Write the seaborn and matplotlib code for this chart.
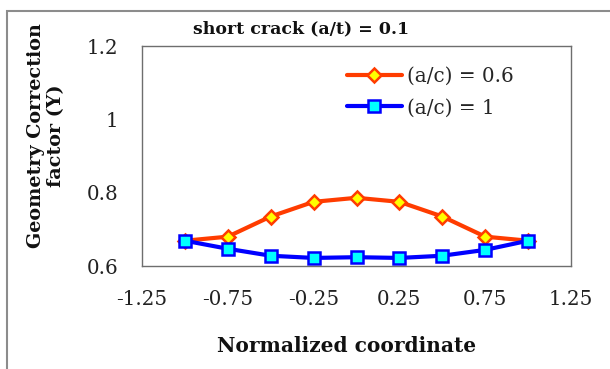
import matplotlib
matplotlib.use("Agg")
import matplotlib.pyplot as plt
import seaborn as sns
import pandas as pd
from matplotlib.patches import Rectangle

sns.set_theme(style="white")
plt.rcParams['font.family'] = ['DejaVu Serif']

x_coord = [-1.0, -0.75, -0.5, -0.25, 0.0, 0.25, 0.5, 0.75, 1.0]
y_ac06 = [0.669, 0.680, 0.735, 0.775, 0.786, 0.775, 0.735, 0.680, 0.669]
y_ac1 = [0.669, 0.647, 0.628, 0.622, 0.624, 0.622, 0.628, 0.644, 0.669]
series_names = ["(a/c) = 0.6", "(a/c) = 1"]
x_ticks = [-1.25, -0.75, -0.25, 0.25, 0.75, 1.25]
x_ticklabels = ["-1.25", "-0.75", "-0.25", "0.25", "0.75", "1.25"]
y_ticks = [0.6, 0.8, 1.0, 1.2]
y_ticklabels = ["0.6", "0.8", "1", "1.2"]

df = pd.DataFrame({
    "x": x_coord * 2,
    "y": y_ac06 + y_ac1,
    "series": [series_names[0]] * len(x_coord) + [series_names[1]] * len(x_coord),
})

W, H = 610, 369
fig = plt.figure(figsize=(W / 100, H / 100), dpi=100)
ax = fig.add_axes([142 / W, 1 - 266 / H, 429 / W, 220 / H])

styles = {
    series_names[0]: dict(color="#FF3C00", marker="D", mfc="#FFFF00", mec="#FF3C00", ms=7.5, mew=1.8),
    series_names[1]: dict(color="#0000FF", marker="s", mfc="#00FFFF", mec="#0000FF", ms=8.0, mew=1.8),
}
for name in series_names:
    sub = df[df["series"] == name]
    st = styles[name]
    sns.lineplot(data=sub, x="x", y="y", ax=ax, color=st["color"], linewidth=3.0,
                 marker=st["marker"], markerfacecolor=st["mfc"], markeredgecolor=st["mec"],
                 markersize=st["ms"], markeredgewidth=st["mew"], label=name, legend=False,
                 estimator=None, sort=False)

ax.set_xlim(-1.25, 1.25)
ax.set_ylim(0.6, 1.2)
ax.set_xticks(x_ticks)
ax.set_xticklabels(x_ticklabels)
ax.set_yticks(y_ticks)
ax.set_yticklabels(y_ticklabels)
ax.tick_params(axis="both", length=0, labelsize=14.3, colors="#222222")
ax.tick_params(axis="y", pad=17)
ax.tick_params(axis="x", pad=17.5)
ax.set_xlabel("")
ax.set_ylabel("")
for sp in ax.spines.values():
    sp.set_color("#6e6e6e")
    sp.set_linewidth(1.0)

leg = ax.legend(loc="upper left", bbox_to_anchor=(205 / 429, 1 - 21 / 220), frameon=False,
                fontsize=14.3, handlelength=2.75, handletextpad=0.25, labelspacing=0.62,
                borderaxespad=0, borderpad=0)

fig.text(301 / W, 1 - 29 / H, "short crack (a/t) = 0.1", ha="center", va="center",
         fontsize=12.5, fontweight="bold", color="#111111")
fig.text(46 / W, 1 - 136 / H, "Geometry Correction\nfactor (Y)", ha="center", va="center",
         rotation=90, fontsize=13.8, fontweight="bold", color="#111111", multialignment="center",
         linespacing=1.2)
fig.text(347 / W, 1 - 346 / H, "Normalized coordinate", ha="center", va="center",
         fontsize=14.5, fontweight="bold", color="#111111")

fig.patches.append(Rectangle((7 / W, -0.1), 1.2, 1 - 11 / H + 0.1, transform=fig.transFigure,
                             fill=False, edgecolor="#8c8c8c", linewidth=1.5))

fig.savefig("out.png", dpi=100)
